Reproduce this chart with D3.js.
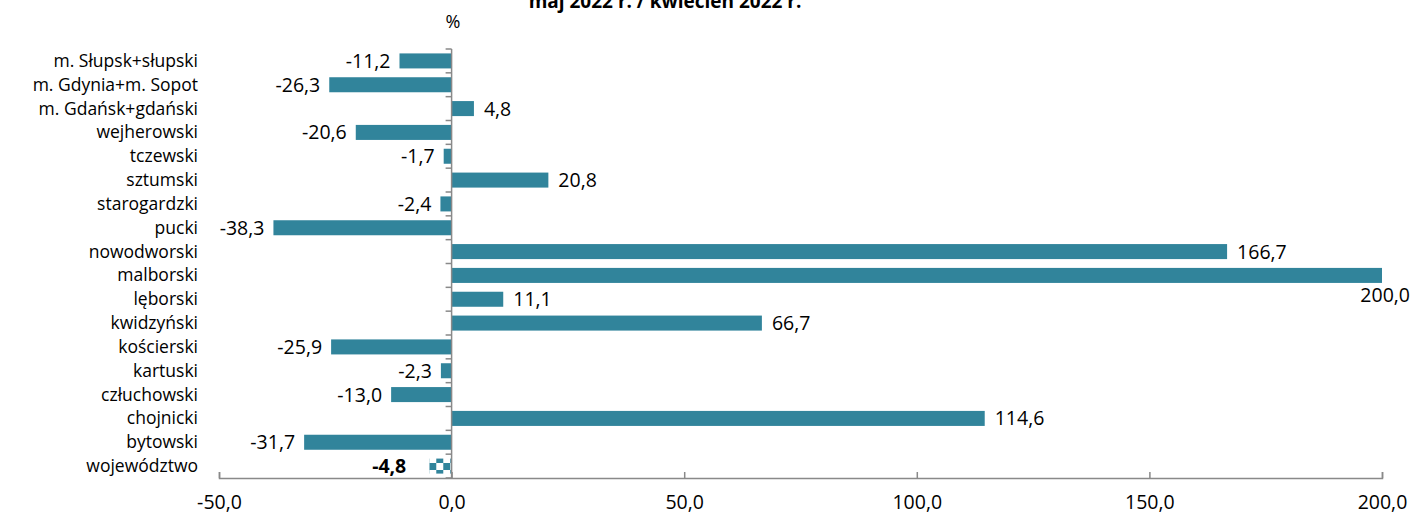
<!DOCTYPE html>
<html><head><meta charset="utf-8">
<script src="https://cdn.jsdelivr.net/npm/d3@7"></script>
<style>body{margin:0;background:#fff}svg{display:block}text{font-family:"Open Sans",Lato,sans-serif;fill:#000}</style>
</head><body>
<svg id="c" width="1416" height="519"></svg>
<script>
const categories = ["m. Słupsk+słupski","m. Gdynia+m. Sopot","m. Gdańsk+gdański","wejherowski","tczewski","sztumski","starogardzki","pucki","nowodworski","malborski","lęborski","kwidzyński","kościerski","kartuski","człuchowski","chojnicki","bytowski","województwo"];
const values = [-11.2,-26.3,4.8,-20.6,-1.7,20.8,-2.4,-38.3,166.7,200.0,11.1,66.7,-25.9,-2.3,-13.0,114.6,-31.7,-4.8];
const xTicks = [-50,0,50,100,150,200];
const title = "maj 2022 r. / kwiecień 2022 r.";
const unit = "%";
const color = "#31849B";
const axisColor = "#898989";

const svg = d3.select("#c");
const x = d3.scaleLinear().domain([-50,200]).range([219,1382]);
const y = d3.scaleBand().domain(categories).range([49,478]).paddingInner(0.37).paddingOuter(0.185);
const fmt = v => d3.format(".1f")(v).replace(".",",").replace("−","-");

const defs = svg.append("defs");
const pat = defs.append("pattern").attr("id","chk").attr("patternUnits","userSpaceOnUse")
  .attr("width",14).attr("height",14).attr("x",x(-4.8)).attr("y",456);
pat.append("rect").attr("x",7).attr("y",0).attr("width",7).attr("height",7).attr("fill",color);
pat.append("rect").attr("x",0).attr("y",7).attr("width",7).attr("height",7).attr("fill",color);

// title
svg.append("text").attr("x",665).attr("y",8).attr("text-anchor","middle")
  .style("font-weight","bold").style("font-size","19px").text(title);
svg.append("text").attr("x",453).attr("y",28).attr("text-anchor","middle").style("font-size","18px").text(unit);

// bars
const last = categories.length-1;
svg.append("g").selectAll("rect").data(values).join("rect")
  .attr("x",d=>x(Math.min(0,d))).attr("width",d=>Math.abs(x(d)-x(0)))
  .attr("y",(d,i)=>y(categories[i])).attr("height",y.bandwidth())
  .attr("fill",(d,i)=> i===last ? "url(#chk)" : color);

// value labels
svg.append("g").selectAll("text").data(values).join("text")
  .attr("x",(d,i)=> d===200 ? x(d)+28 : (i===last ? x(d)-23 : (d<0 ? x(d)-9 : x(d)+10)))
  .attr("y",(d,i)=> d===200 ? y(categories[i])+y.bandwidth()+19 : y(categories[i])+y.bandwidth()/2+7)
  .attr("text-anchor",(d,i)=> d===200 ? "end" : (d<0 ? "end":"start"))
  .style("font-size","19.5px")
  .style("font-weight",(d,i)=> i===last ? "bold":"normal")
  .text(fmt);

// y axis
const ya = svg.append("g");
ya.append("line").attr("x1",x(0)).attr("x2",x(0)).attr("y1",49).attr("y2",478).attr("stroke",axisColor).attr("stroke-width",1.5);
const bounds = d3.range(categories.length+1).map(i=>49 + i*(478-49)/categories.length);
ya.selectAll("line.t").data(bounds).join("line").attr("class","t")
  .attr("x1",x(0)-6).attr("x2",x(0)).attr("y1",d=>d).attr("y2",d=>d).attr("stroke",axisColor).attr("stroke-width",1.5);
svg.append("g").selectAll("text").data(categories).join("text")
  .attr("x",198).attr("y",d=>y(d)+y.bandwidth()/2+6).attr("text-anchor","end")
  .style("font-size","17.5px").text(d=>d);

// x axis
const xa = svg.append("g").attr("transform","translate(0,478)")
  .call(d3.axisBottom(x).tickValues(xTicks).tickSize(-6).tickPadding(17).tickFormat(fmt));
xa.select(".domain").attr("stroke",axisColor).attr("stroke-width",1.5);
xa.selectAll(".tick line").attr("stroke",axisColor).attr("stroke-width",1.5);
xa.selectAll(".tick text").style("font-size","19.5px").style("font-family","'Open Sans',sans-serif").attr("fill","#000");
</script>
</body></html>
